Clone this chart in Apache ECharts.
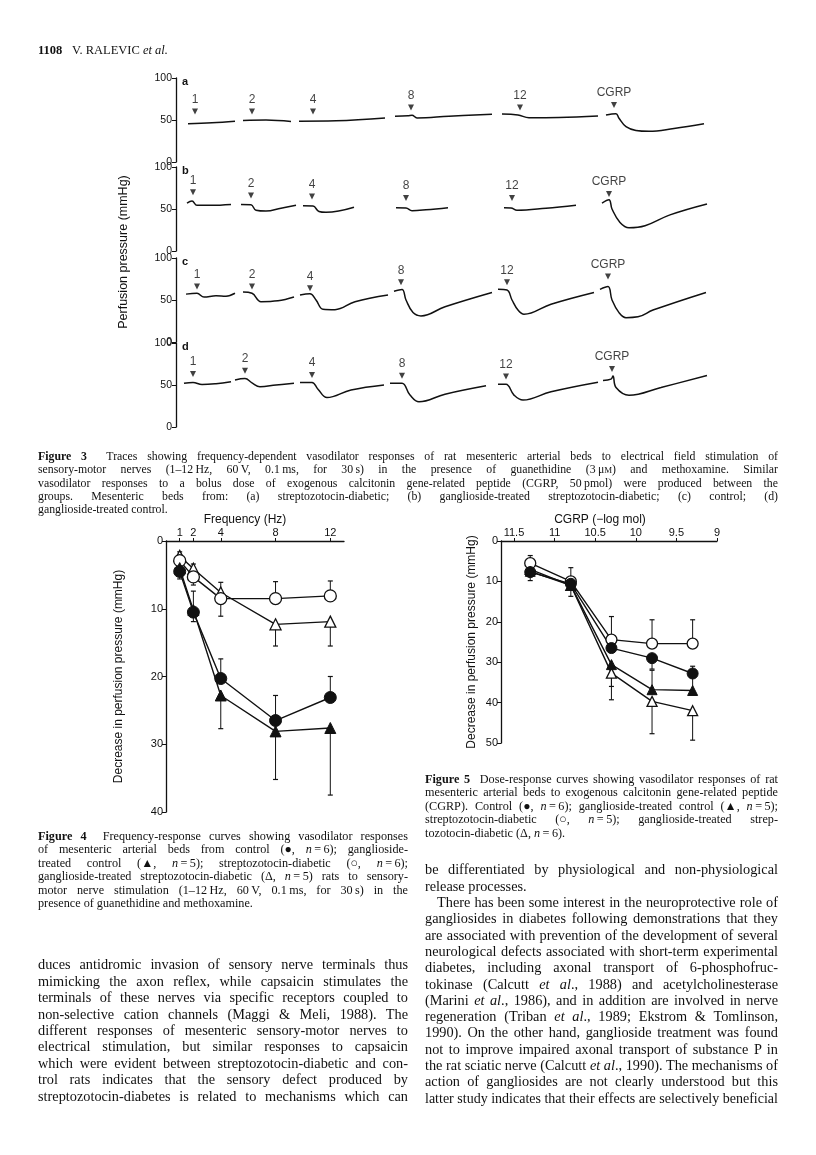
<!DOCTYPE html>
<html><head><meta charset="utf-8">
<script src="https://cdn.jsdelivr.net/npm/echarts@6/dist/echarts.min.js"></script>
<style>
html,body{margin:0;padding:0;background:#fff;}
#page{position:relative;width:816px;height:1155px;overflow:hidden;background:#fff;}
#chart{position:absolute;left:0;top:0;width:816px;height:1155px;}
.t{position:absolute;font-family:"Liberation Serif","Times New Roman",serif;color:#111;white-space:nowrap;transform-origin:0 50%;}
</style></head>
<body><div id="page"><div id="chart"></div></div>
<script>
// ---------------- DATA ----------------
// Figure 3 traces: [time (arbitrary units), perfusion pressure mmHg]
const fig3Labels = ['1','2','4','8','12','CGRP'];
const fig3PanelNames = ['a','b','c','d'];
const fig3YTicks = [0,50,100];
const traceA = [
  [[12,45.5],[36,46.8],[59,48.6]],
  [[67,49.5],[90,50],[115,48.2]],
  [[123,48.6],[160,49],[209,52.3]],
  [[219,54.5],[232,55],[236,55.6],[241,52.5],[273,54.5],[316,56.8]],
  [[326,57.2],[342,56],[353,52.7],[383,53],[422,54.8]],
  [[430,55.9],[440,57.5],[443,52],[450,42],[460,37.5],[473,36.5],[498,40],[528,45.5]]
];
const traceB = [
  [[11,57],[16,59.5],[21,54.5],[35,54.5],[55,55.5]],
  [[65,55.5],[75,55],[80,48.5],[90,47.5],[105,51],[120,54.5]],
  [[127,53.8],[137,53.5],[143,47],[150,46],[178,52]],
  [[220,51.4],[230,51.2],[236,48],[250,49],[272,51.5]],
  [[328,51.4],[335,51.2],[341,48.6],[370,51],[400,54.5]],
  [[426,57],[433,61],[436,50],[444,34],[453,27.6],[469,30],[494,43],[531,56]]
];
const traceC = [
  [[10,57],[21,58],[28,53.5],[40,55],[50,54.5],[59,58]],
  [[67,59.5],[76,58],[85,48],[102,49],[118,53.5]],
  [[124,56],[134,57.3],[140,50],[147,39],[159,38.5],[179,48],[212,56]],
  [[218,60.5],[226,62.5],[230,50],[237,35],[245,31],[269,42],[316,59]],
  [[322,62.7],[331,61.8],[336,50],[342,38],[348,33],[375,45],[418,59]],
  [[424,62.7],[432,66],[436,50],[443,35],[450,29],[462,30],[477,38],[530,59]]
];
const traceD = [
  [[8,52],[17,53],[26,50.5],[40,51.5],[55,53.8]],
  [[59,56],[69,57.6],[76,52.5],[84,48],[100,50],[118,52]],
  [[124,53],[136,53],[142,45],[151,35],[175,44],[208,50]],
  [[214,52],[226,52],[234,38],[243,30],[269,39],[310,49]],
  [[322,51],[330,51],[338,38],[347,32],[375,42],[422,53.4]],
  [[427,55.5],[435,57],[437,60.6],[440,47],[453,37.7],[485,47],[531,61.4]]
];
// stimulus arrow positions [time] and heights [mmHg]
const arrowTA = [19,76,137,235,344,438]; const arrowVA = [60,60,60,65,65,68];
const arrowTB = [17,75,136,230,336,433]; const arrowVB = [70,66,65,63,63,68];
const arrowTC = [21,76,134,225,331,432]; const arrowVC = [66,66,64,71,71,78];
const arrowTD = [17,69,136,226,330,436]; const arrowVD = [63,67,62,61,60,69];

// Figure 4: frequency-response
const freqHz = [1,2,4,8,12];
const freqTicks = [1,2,4,8,12];
const f4Control = [4.5,10.5,20.3,26.5,23.1];
const f4ControlErr = [5.6,7.4,17.4,22.8,20.0];
const f4GControl = [4.0,10.2,22.8,28.1,27.6];
const f4GControlErr = [null,11.9,27.7,35.2,37.5];
const f4Diab = [2.9,5.3,8.5,8.5,8.1];
const f4DiabErr = [null,6.5,11.1,6.0,5.9];
const f4GDiab = [2.2,4.1,7.6,12.3,11.9];
const f4GDiabErr = [1.6,3.4,6.1,15.5,15.5];

// Figure 5: dose-response (CGRP, -log mol)
const cgrpDose = [11.3,10.8,10.3,9.8,9.3];
const cgrpTicks = [11.5,11,10.5,10,9.5,9];
const f5Control = [7.7,10.6,26.5,29.0,32.8];
const f5ControlErr = [9.8,null,23.5,31.7,31.0];
const f5GControl = [7.5,11.0,30.6,36.8,37.0];
const f5GControlErr = [null,13.7,36.0,32.0,33.0];
const f5Diab = [5.5,10.0,24.4,25.4,25.4];
const f5DiabErr = [3.6,6.6,18.7,19.5,19.5];
const f5GDiab = [7.0,11.0,32.7,39.7,42.0];
const f5GDiabErr = [5.1,null,39.3,47.7,49.3];

// ---------------- TEXT ----------------
const headerNum = '1108';
const headerAuthor = 'V. RALEVIC <i>et al.</i>';
const fig3Cap = [
 '<b>Figure 3</b>&nbsp; Traces showing frequency-dependent vasodilator responses of rat mesenteric arterial beds to electrical field stimulation of',
 'sensory-motor nerves (1\u201312\u2009Hz, 60\u2009V, 0.1\u2009ms, for 30\u2009s) in the presence of guanethidine (3\u2009\u03bc<span style="font-size:75%">M</span>) and methoxamine. Similar',
 'vasodilator responses to a bolus dose of exogenous calcitonin gene-related peptide (CGRP, 50\u2009pmol) were produced between the',
 'groups. Mesenteric beds from: (a) streptozotocin-diabetic; (b) ganglioside-treated streptozotocin-diabetic; (c) control; (d)',
 'ganglioside-treated control.'
];
const fig4Cap = [
 '<b>Figure 4</b>&nbsp; Frequency-response curves showing vasodilator responses',
 'of mesenteric arterial beds from control (\u25cf, <i>n</i>\u2009=\u20096); ganglioside-',
 'treated control (\u25b2, <i>n</i>\u2009=\u20095); streptozotocin-diabetic (\u25cb, <i>n</i>\u2009=\u20096);',
 'ganglioside-treated streptozotocin-diabetic (\u0394, <i>n</i>\u2009=\u20095) rats to sensory-',
 'motor nerve stimulation (1\u201312\u2009Hz, 60\u2009V, 0.1\u2009ms, for 30\u2009s) in the',
 'presence of guanethidine and methoxamine.'
];
const fig5Cap = [
 '<b>Figure 5</b>&nbsp; Dose-response curves showing vasodilator responses of rat',
 'mesenteric arterial beds to exogenous calcitonin gene-related peptide',
 '(CGRP). Control (\u25cf, <i>n</i>\u2009=\u20096); ganglioside-treated control (\u25b2, <i>n</i>\u2009=\u20095);',
 'streptozotocin-diabetic (\u25cb, <i>n</i>\u2009=\u20095); ganglioside-treated strep-',
 'tozotocin-diabetic (\u0394, <i>n</i>\u2009=\u20096).'
];
const leftBody = [
 'duces antidromic invasion of sensory nerve terminals thus',
 'mimicking the axon reflex, while capsaicin stimulates the',
 'terminals of these nerves via specific receptors coupled to',
 'non-selective cation channels (Maggi &amp; Meli, 1988). The',
 'different responses of mesenteric sensory-motor nerves to',
 'electrical stimulation, but similar responses to capsaicin',
 'which were evident between streptozotocin-diabetic and con-',
 'trol rats indicates that the sensory defect produced by',
 'streptozotocin-diabetes is related to mechanisms which can'
];
const rightBody = [
 'be differentiated by physiological and non-physiological',
 'release processes.',
 'There has been some interest in the neuroprotective role of',
 'gangliosides in diabetes following demonstrations that they',
 'are associated with prevention of the development of several',
 'neurological defects associated with short-term experimental',
 'diabetes, including axonal transport of 6-phosphofruc-',
 'tokinase (Calcutt <i>et al</i>., 1988) and acetylcholinesterase',
 '(Marini <i>et al</i>., 1986), and in addition are involved in nerve',
 'regeneration (Triban <i>et al</i>., 1989; Ekstrom &amp; Tomlinson,',
 '1990). On the other hand, ganglioside treatment was found',
 'not to improve impaired axonal transport of substance P in',
 'the rat sciatic nerve (Calcutt <i>et al</i>., 1990). The mechanisms of',
 'action of gangliosides are not clearly understood but this',
 'latter study indicates that their effects are selectively beneficial'
];

// ---------------- TEXT LAYOUT ----------------
const page = document.getElementById('page');
function addLine(html, left, width, cy, size, justify, extra) {
  const d = document.createElement('div');
  d.className = 't';
  d.style.left = left + 'px';
  d.style.fontSize = size + 'px';
  d.style.lineHeight = (size * 1.2) + 'px';
  d.style.top = (cy - size * 0.6) + 'px';
  if (extra) Object.assign(d.style, extra);
  d.innerHTML = html;
  page.appendChild(d);
  const nat = d.getBoundingClientRect().width;
  if (justify) {
    const gaps = (d.textContent.match(/[ \u00a0]/g) || []).length;
    if (nat < width && gaps > 0) {
      d.style.wordSpacing = ((width - nat) / gaps) + 'px';
    } else if (nat > width) {
      d.style.transform = 'scaleX(' + (width / nat) + ')';
    }
  }
  return d;
}
function addBlock(lines, left, width, cy0, step, size, noJust, indents) {
  lines.forEach((l, i) => {
    const ind = (indents && indents[i]) || 0;
    addLine(l, left + ind, width - ind, cy0 + i * step, size, !(noJust || []).includes(i));
  });
}
addLine(headerNum, 38, 0, 50, 12.5, false, {fontWeight: 'bold'});
addLine(headerAuthor, 72, 0, 50, 12.5, false);
addBlock(fig3Cap, 38, 740, 456, 13.3, 11.8, [4]);
addBlock(fig4Cap, 38, 370, 836, 13.5, 12.2, [5]);
addBlock(fig5Cap, 425, 353, 779, 13.5, 12.2, [4]);
addBlock(leftBody, 38, 370, 965, 16.4, 14.3, []);
addBlock(rightBody, 425, 353, 870, 16.3, 14.3, [1], [0,0,12]);

// ---------------- CHART ----------------
const FONT = '"Liberation Sans", Arial, sans-serif';
const INK = '#111';
const panelTops = [78, 167, 258, 343];
const panelH = 84;
const traces = [traceA, traceB, traceC, traceD];
const arrowsT = [arrowTA, arrowTB, arrowTC, arrowTD];
const arrowsV = [arrowVA, arrowVB, arrowVC, arrowVD];

const grids = [], xAxes = [], yAxes = [], series = [], graphics = [];
panelTops.forEach((top, i) => {
  grids.push({left: 176, top: top, width: 540, height: panelH});
  xAxes.push({type: 'value', gridIndex: i, min: 0, max: 540, show: false});
  yAxes.push({type: 'value', gridIndex: i, min: 0, max: 100,
    axisLine: {show: true, lineStyle: {color: INK, width: 1.3}},
    axisTick: {show: true, length: 4, lineStyle: {color: INK}, customValues: fig3YTicks},
    axisLabel: {color: INK, fontSize: 10.5, fontFamily: FONT, margin: 4, customValues: fig3YTicks},
    splitLine: {show: false}});
  traces[i].forEach(seg => series.push({type: 'line', xAxisIndex: i, yAxisIndex: i,
    data: seg, smooth: 0.4, symbol: 'none', silent: true,
    lineStyle: {color: INK, width: 1.5}}));
  series.push({type: 'scatter', xAxisIndex: i, yAxisIndex: i,
    data: arrowsT[i].map((t, k) => ({value: [t, arrowsV[i][k]], name: fig3Labels[k]})),
    symbol: 'triangle', symbolRotate: 180, symbolSize: [6, 6],
    itemStyle: {color: INK},
    label: {show: true, position: 'top', distance: 3, formatter: p => p.name,
      color: INK, fontSize: 12, fontFamily: FONT}});
  graphics.push({type: 'text', left: 182, top: top - 2,
    style: {text: fig3PanelNames[i], font: 'bold 11px ' + FONT, fill: INK}});
});
graphics.push({type: 'text', x: 124, y: 252, rotation: Math.PI / 2,
  style: {text: 'Perfusion pressure (mmHg)', font: '12.5px ' + FONT, fill: INK,
    align: 'center', verticalAlign: 'middle'}});

// Figure 4 grid (index 4) and Figure 5 grid (index 5)
grids.push({left: 166, top: 541, width: 178, height: 271});
grids.push({left: 501, top: 541, width: 216, height: 202});
const axisCommon = {
  axisLine: {show: true, lineStyle: {color: INK, width: 1.3}},
  axisTick: {show: true, length: 4, lineStyle: {color: INK}},
  splitLine: {show: false}
};
xAxes.push(Object.assign({}, axisCommon, {type: 'value', gridIndex: 4, min: 0, max: 13, position: 'top',
  axisTick: {show: true, length: 3, lineStyle: {color: INK}, customValues: freqTicks},
  axisLabel: {color: INK, fontSize: 11, fontFamily: FONT, margin: 3, customValues: freqTicks},
  name: 'Frequency (Hz)', nameLocation: 'middle', nameGap: 14,
  nameTextStyle: {color: INK, fontSize: 12, fontFamily: FONT, padding: [0, 20, 0, 0]}}));
yAxes.push(Object.assign({}, axisCommon, {type: 'value', gridIndex: 4, min: 0, max: 40, interval: 10, inverse: true,
  axisLabel: {color: INK, fontSize: 11, fontFamily: FONT, margin: 3},
  name: 'Decrease in perfusion pressure (mmHg)', nameLocation: 'middle', nameGap: 41,
  nameTextStyle: {color: INK, fontSize: 12, fontFamily: FONT}}));
xAxes.push(Object.assign({}, axisCommon, {type: 'value', gridIndex: 5, min: 9, max: 11.66, inverse: true, position: 'top',
  axisTick: {show: true, length: 3, lineStyle: {color: INK}, customValues: cgrpTicks},
  axisLabel: {color: INK, fontSize: 11, fontFamily: FONT, margin: 3, customValues: cgrpTicks},
  name: 'CGRP (\u2212log mol)', nameLocation: 'middle', nameGap: 14,
  nameTextStyle: {color: INK, fontSize: 12, fontFamily: FONT, padding: [0, 18, 0, 0]}}));
yAxes.push(Object.assign({}, axisCommon, {type: 'value', gridIndex: 5, min: 0, max: 50, interval: 10, inverse: true,
  axisLabel: {color: INK, fontSize: 11, fontFamily: FONT, margin: 3},
  name: 'Decrease in perfusion pressure (mmHg)', nameLocation: 'middle', nameGap: 23,
  nameTextStyle: {color: INK, fontSize: 12, fontFamily: FONT}}));

function errRender(params, api) {
  const x = api.value(0), y = api.value(1), e = api.value(2);
  const p0 = api.coord([x, y]), p1 = api.coord([x, e]);
  return {type: 'group', children: [
    {type: 'line', shape: {x1: p0[0], y1: p0[1], x2: p1[0], y2: p1[1]}, style: {stroke: INK, lineWidth: 1}},
    {type: 'line', shape: {x1: p1[0] - 2.5, y1: p1[1], x2: p1[0] + 2.5, y2: p1[1]}, style: {stroke: INK, lineWidth: 1.2}}
  ]};
}
function addGroup(gi, xs, ys, errs, symbol, filled, size) {
  series.push({type: 'custom', xAxisIndex: gi, yAxisIndex: gi, renderItem: errRender, silent: true, z: 1,
    data: xs.map((x, k) => [x, ys[k], errs[k]]).filter(d => d[2] !== null)});
  series.push({type: 'line', xAxisIndex: gi, yAxisIndex: gi, z: 3,
    data: xs.map((x, k) => [x, ys[k]]), symbol: symbol, symbolSize: size, showAllSymbol: true,
    lineStyle: {color: INK, width: 1.4},
    itemStyle: filled ? {color: INK, borderColor: INK, borderWidth: 1} : {color: '#fff', borderColor: INK, borderWidth: 1.3}});
}
addGroup(4, freqHz, f4GDiab, f4GDiabErr, 'triangle', false, 11);
addGroup(4, freqHz, f4Diab, f4DiabErr, 'circle', false, 12);
addGroup(4, freqHz, f4GControl, f4GControlErr, 'triangle', true, 11);
addGroup(4, freqHz, f4Control, f4ControlErr, 'circle', true, 12);
addGroup(5, cgrpDose, f5GDiab, f5GDiabErr, 'triangle', false, 10);
addGroup(5, cgrpDose, f5Diab, f5DiabErr, 'circle', false, 11);
addGroup(5, cgrpDose, f5GControl, f5GControlErr, 'triangle', true, 10);
addGroup(5, cgrpDose, f5Control, f5ControlErr, 'circle', true, 11);

const chart = echarts.init(document.getElementById('chart'));
chart.setOption({animation: false, grid: grids, xAxis: xAxes, yAxis: yAxes, series: series, graphic: graphics});
</script></body></html>
